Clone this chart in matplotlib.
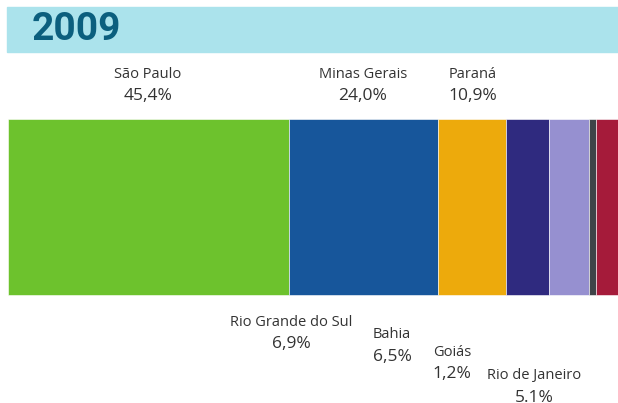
import matplotlib.pyplot as plt

# share of each state, 2009 (%)
states = ['São Paulo', 'Minas Gerais', 'Paraná', 'Rio Grande do Sul',
          'Bahia', 'Goiás', 'Rio de Janeiro']
shares = [45.4, 24.0, 10.9, 6.9, 6.5, 1.2, 5.1]
share_text = ['45,4%', '24,0%', '10,9%', '6,9%', '6,5%', '1,2%', '5.1%']
colors = ['#6dc22d', '#17569b', '#edaa0c', '#2f2a7f',
          '#9690d0', '#3f4448', '#a51b3a']

# label placement in pixels: (x centre, y of name line)
label_px = [(148, 74), (363, 74), (473, 74), (291, 322),
            (392, 335), (452, 352), (534, 376)]

scale = 6.2  # px per percent
x0 = 8       # left edge of bar in px


def px2x(px):
    return (px - x0) / scale


fig = plt.figure(figsize=(6.18, 4.03), dpi=100)
ax = fig.add_axes([0, 0, 1, 1])
ax.set_xlim(px2x(0), px2x(618))
ax.set_ylim(403, 0)
ax.axis('off')

# header band
ax.axhspan(7, 52, xmin=7 / 618, xmax=1, color='#abe3ec', zorder=0)
ax.text(px2x(32), 30, '2009', fontsize=28, fontweight='bold',
        family='Roboto', color='#0b5f7e', va='center', ha='left')

left = 0
for s, v, c in zip(states, shares, colors):
    ax.barh(207, v, left=left, height=176, color=c,
            edgecolor='white', linewidth=0.4)
    left += v

for s, t, (x, y) in zip(states, share_text, label_px):
    ax.text(px2x(x), y, s, ha='center', va='center', fontsize=10.5,
            family='Open Sans', color='#333333')
    ax.text(px2x(x), y + 22, t, ha='center', va='center', fontsize=12.5,
            family='Open Sans', color='#333333')

fig.savefig('out.png', dpi=100)
